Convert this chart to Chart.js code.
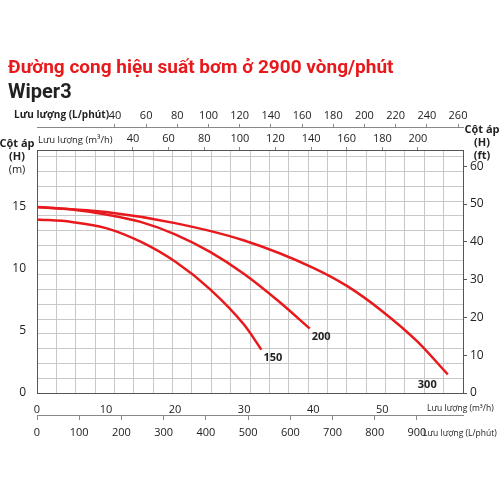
<!DOCTYPE html>
<html><head><meta charset="utf-8">
<script src="https://cdn.jsdelivr.net/npm/chart.js@4"></script>
<style>body{margin:0;background:#fff}#w{width:500px;height:500px}</style>
</head><body><div id="w"><canvas id="c"></canvas></div>
<script>
const flowX = [0, 10, 20, 30, 40, 50, 59.5];
const curve150 = [[0,14.0],[5,13.8],[10,13.3],[15,12.2],[20,10.6],[25,8.4],[30,5.5],[32.5,3.5]];
const curve200 = [[0,15.0],[5,14.8],[10,14.4],[15,13.8],[20,12.8],[25,11.4],[30,9.6],[35,7.4],[39.5,5.2]];
const curve300 = [[0,15.0],[10,14.6],[20,13.7],[30,12.3],[40,10.1],[45,8.6],[50,6.6],[55,4.2],[59.5,1.5]];
const curveNames = ['150','200','300'];
const topLpmTicks = [40,60,80,100,120,140,160,180,200,220,240,260];
const topM3Ticks = [40,60,80,100,120,140,160,180,200];
const bottomLpmTicks = [0,100,200,300,400,500,600,700,800,900];
const ftTicks = [0,10,20,30,40,50,60];
const XMAX = 61.7, YMAX = 19.6;
const red = '#e8191c';
const tickFont = {family:'Open Sans', size:11};
const toPts = a => a.map(p=>({x:p[0],y:p[1]}));
const setTicks = vals => axis => { axis.ticks = vals.map(v=>({value:v})); };
const gridStepX = XMAX/22, gridStepY = 1.19;
const gx=[],gy=[]; for(let i=0;i<=22;i++)gx.push(i*gridStepX); for(let v=0;v<=YMAX;v+=gridStepY)gy.push(v);
const fixH = h => a => { a.height = h; };
const fixW = w => a => { a.width = w; };

const textPlugin = {
  id:'txt',
  afterDraw(ch){
    const c=ch.ctx; c.save();
    c.fillStyle=red; c.font='bold 19px Roboto'; c.textBaseline='middle';
    c.fillText('Đường cong hiệu suất bơm ở 2900 vòng/phút',8,68);
    c.fillStyle='#222'; c.font='bold 20px Roboto'; c.fillText('Wiper3',8,93);
    c.font='bold 10px Open Sans'; c.fillText('Lưu lượng (L/phút)',14,115);
    c.font='9.5px Open Sans'; c.fillText('Lưu lượng (m³/h)',38,140);
    c.font='bold 11px Open Sans'; c.textAlign='center';
    c.fillText('Cột áp',17,144); c.fillText('(H)',17,157); c.font='11px Open Sans'; c.fillText('(m)',17,170);
    c.font='bold 11px Open Sans';
    c.fillText('Cột áp',482,130); c.fillText('(H)',482,143); c.fillText('(ft)',482,156);
    c.textAlign='left'; c.font='8.5px Open Sans';
    c.fillText('Lưu lượng (m³/h)',427,409);
    c.fillText('Lưu lượng (L/phút)',423,434);
    c.font='bold 11px Open Sans';
    ch.data.datasets.forEach((d,i)=>{
      const m=ch.getDatasetMeta(i); const last=m.data[m.data.length-1];
      c.fillText(curveNames[i], last.x+2-(i==2?32:0), last.y+8+(i==2?2:0));
    });
    c.restore();
  }
};

new Chart(document.getElementById('c'),{
  type:'line',
  data:{datasets:[curve150,curve200,curve300].map(a=>({data:toPts(a),borderColor:red,borderWidth:2.5,pointRadius:0,cubicInterpolationMode:'monotone',fill:false}))},
  options:{
    responsive:true,maintainAspectRatio:false,animation:false,
    layout:{padding:{top:105,bottom:50,left:0,right:0}},
    plugins:{legend:{display:false},tooltip:{enabled:false}},
    scales:{
      x:{type:'linear',position:'bottom',min:0,max:XMAX,afterBuildTicks:setTicks(flowX.slice(0,6)),afterFit:fixH(22),
         grid:{display:false},border:{color:'#555'},ticks:{font:tickFont,color:'#222',padding:2}},
      xl:{type:'linear',position:'bottom',min:0,max:1009,afterBuildTicks:setTicks(bottomLpmTicks),afterFit:fixH(35),
         grid:{drawOnChartArea:false,tickLength:5,color:'#888'},border:{color:'#888'},ticks:{font:tickFont,color:'#222',padding:6}},
      xg:{type:'linear',position:'top',min:0,max:XMAX,afterBuildTicks:setTicks(gx),afterFit:fixH(0),
         grid:{color:'#c8c8c8',tickLength:0},border:{display:false},ticks:{display:false}},
      x2:{type:'linear',position:'top',min:-13.9,max:225.3,afterBuildTicks:setTicks(topM3Ticks),afterFit:fixH(23),
         grid:{drawOnChartArea:false,tickLength:3,color:'#888'},border:{color:'#555'},ticks:{font:tickFont,color:'#222',padding:2}},
      x3:{type:'linear',position:'top',min:-10,max:263.2,afterBuildTicks:setTicks(topLpmTicks),afterFit:fixH(22),
         grid:{drawOnChartArea:false,tickLength:3,color:'#888'},border:{color:'#888'},ticks:{font:tickFont,color:'#222',padding:2}},
      y:{type:'linear',position:'left',min:0,max:YMAX,afterBuildTicks:setTicks([0,5,10,15]),afterFit:fixW(37),
         grid:{display:false},border:{color:'#555'},ticks:{font:{family:'Open Sans',size:12},color:'#222'}},
      yg:{type:'linear',position:'left',min:0,max:YMAX,afterBuildTicks:setTicks(gy),afterFit:fixW(0),
         grid:{color:'#c8c8c8',tickLength:0},border:{display:false},ticks:{display:false}},
      yft:{type:'linear',position:'right',min:0,max:YMAX*3.2808,afterBuildTicks:setTicks(ftTicks),afterFit:fixW(37),
         grid:{drawOnChartArea:false,tickLength:4,color:'#555'},border:{color:'#555'},ticks:{font:{family:'Open Sans',size:12},color:'#222'}}
    }
  },
  plugins:[textPlugin]
});
</script></body></html>
